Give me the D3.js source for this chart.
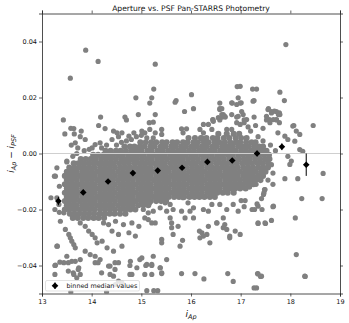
<!DOCTYPE html>
<html>
<head>
<meta charset="utf-8">
<script src="https://cdn.jsdelivr.net/npm/d3@7"></script>
<style>
  body { margin: 0; background: #fff; }
  svg { display: block; font-family: "DejaVu Sans", sans-serif; }
</style>
</head>
<body>
<svg id="chart" width="349" height="323"></svg>
<script>
const xTicks = [13, 14, 15, 16, 17, 18, 19];
const yTicks = [-0.04, -0.02, 0, 0.02, 0.04];

// binned medians
const binMag = [13.33, 13.83, 14.33, 14.83, 15.33, 15.82, 16.33, 16.83, 17.33, 17.83, 18.32];
const binMedian = [-0.0170, -0.0139, -0.0100, -0.0070, -0.0061, -0.0051, -0.0030, -0.0025, 0.0000, 0.0024, -0.0040];
const binErr = [0.0015, 0.0008, 0.0005, 0.0004, 0.0004, 0.0004, 0.0005, 0.0006, 0.0010, 0.0012, 0.0040];

// dense core of the scatter, one row per y level
const coreY = [0.0070, 0.0055, 0.0040, 0.0025, 0.0010, -0.0005, -0.0020, -0.0035, -0.0050, -0.0065,
  -0.0080, -0.0095, -0.0110, -0.0125, -0.0140, -0.0155, -0.0170, -0.0185, -0.0200, -0.0215, -0.0230];
const coreX = [
  [16.55, 16.72, 16.86, 16.97],
  [15.95, 16.08, 16.2, 16.31, 16.44, 16.53, 16.66, 16.77, 16.9, 17.01, 17.12],
  [14.98, 15.09, 15.2, 15.3, 15.42, 15.51, 15.63, 15.72, 15.84, 15.93, 16.05, 16.14, 16.26, 16.35, 16.47, 16.57, 16.68, 16.79, 16.9, 16.99, 17.11, 17.22, 17.3],
  [14.66, 14.77, 14.86, 14.97, 15.06, 15.18, 15.27, 15.39, 15.48, 15.6, 15.69, 15.8, 15.9, 16.01, 16.11, 16.22, 16.32, 16.43, 16.52, 16.63, 16.74, 16.84, 16.95, 17.05, 17.16, 17.27, 17.37, 17.45],
  [14.28, 14.38, 14.49, 14.58, 14.69, 14.8, 14.9, 15.0, 15.12, 15.21, 15.33, 15.43, 15.54, 15.64, 15.75, 15.85, 15.96, 16.06, 16.17, 16.27, 16.38, 16.48, 16.59, 16.69, 16.8, 16.9, 17.01, 17.11, 17.22, 17.32, 17.42, 17.52],
  [14.03, 14.13, 14.24, 14.34, 14.43, 14.54, 14.63, 14.74, 14.85, 14.95, 15.05, 15.16, 15.26, 15.37, 15.47, 15.58, 15.68, 15.79, 15.89, 16.0, 16.1, 16.21, 16.31, 16.42, 16.53, 16.63, 16.74, 16.84, 16.95, 17.05, 17.16, 17.26, 17.37, 17.47, 17.57],
  [13.78, 13.88, 13.98, 14.08, 14.19, 14.29, 14.39, 14.49, 14.6, 14.7, 14.8, 14.9, 15.01, 15.11, 15.21, 15.32, 15.42, 15.52, 15.63, 15.73, 15.83, 15.94, 16.04, 16.14, 16.25, 16.35, 16.46, 16.56, 16.66, 16.77, 16.87, 16.97, 17.08, 17.18, 17.29, 17.39, 17.49, 17.58],
  [13.64, 13.73, 13.83, 13.94, 14.04, 14.14, 14.24, 14.34, 14.44, 14.55, 14.65, 14.75, 14.86, 14.96, 15.06, 15.17, 15.27, 15.37, 15.47, 15.58, 15.68, 15.78, 15.89, 15.99, 16.09, 16.2, 16.3, 16.4, 16.51, 16.61, 16.71, 16.82, 16.92, 17.03, 17.13, 17.23, 17.34, 17.44, 17.55],
  [13.55, 13.65, 13.76, 13.86, 13.96, 14.06, 14.17, 14.27, 14.37, 14.47, 14.58, 14.68, 14.78, 14.88, 14.99, 15.09, 15.19, 15.3, 15.4, 15.5, 15.61, 15.71, 15.81, 15.91, 16.02, 16.12, 16.22, 16.33, 16.43, 16.53, 16.64, 16.74, 16.84, 16.94, 17.05, 17.15, 17.25, 17.36, 17.46, 17.55],
  [13.5, 13.6, 13.7, 13.81, 13.91, 14.01, 14.12, 14.22, 14.32, 14.42, 14.53, 14.63, 14.73, 14.83, 14.94, 15.04, 15.14, 15.25, 15.35, 15.45, 15.55, 15.66, 15.76, 15.86, 15.97, 16.07, 16.17, 16.27, 16.38, 16.48, 16.58, 16.69, 16.79, 16.89, 16.99, 17.1, 17.2, 17.3, 17.41, 17.5],
  [13.46, 13.55, 13.65, 13.76, 13.86, 13.96, 14.06, 14.17, 14.27, 14.37, 14.47, 14.58, 14.68, 14.78, 14.88, 14.99, 15.09, 15.19, 15.3, 15.4, 15.5, 15.61, 15.71, 15.81, 15.91, 16.02, 16.12, 16.22, 16.33, 16.43, 16.53, 16.64, 16.74, 16.84, 16.94, 17.05, 17.15, 17.25, 17.36, 17.45],
  [13.5, 13.6, 13.7, 13.81, 13.91, 14.01, 14.12, 14.22, 14.32, 14.42, 14.53, 14.63, 14.73, 14.83, 14.94, 15.04, 15.14, 15.25, 15.35, 15.45, 15.55, 15.66, 15.76, 15.86, 15.97, 16.07, 16.17, 16.27, 16.38, 16.48, 16.58, 16.69, 16.79, 16.89, 16.99, 17.1, 17.2, 17.3, 17.4],
  [13.46, 13.55, 13.65, 13.76, 13.86, 13.96, 14.06, 14.17, 14.27, 14.37, 14.47, 14.58, 14.68, 14.78, 14.88, 14.99, 15.09, 15.19, 15.3, 15.4, 15.5, 15.61, 15.71, 15.81, 15.91, 16.02, 16.12, 16.22, 16.33, 16.43, 16.53, 16.64, 16.74, 16.84, 16.94, 17.05, 17.15, 17.26],
  [13.5, 13.6, 13.7, 13.81, 13.91, 14.01, 14.12, 14.22, 14.32, 14.42, 14.53, 14.63, 14.73, 14.83, 14.94, 15.04, 15.14, 15.25, 15.35, 15.45, 15.55, 15.66, 15.76, 15.86, 15.97, 16.07, 16.17, 16.27, 16.38, 16.48, 16.58, 16.69, 16.79, 16.89, 16.99, 17.1],
  [13.46, 13.55, 13.65, 13.76, 13.86, 13.96, 14.06, 14.17, 14.27, 14.37, 14.47, 14.58, 14.68, 14.78, 14.88, 14.99, 15.09, 15.19, 15.3, 15.4, 15.5, 15.61, 15.71, 15.81, 15.91, 16.02, 16.12, 16.22, 16.33, 16.43, 16.53, 16.64, 16.74, 16.86],
  [13.5, 13.6, 13.7, 13.81, 13.91, 14.01, 14.12, 14.22, 14.32, 14.42, 14.53, 14.63, 14.73, 14.83, 14.94, 15.04, 15.14, 15.25, 15.35, 15.45, 15.55, 15.66, 15.76, 15.86, 15.97, 16.07, 16.17, 16.27, 16.38, 16.48],
  [13.46, 13.55, 13.65, 13.76, 13.86, 13.96, 14.06, 14.17, 14.27, 14.37, 14.47, 14.58, 14.68, 14.78, 14.88, 14.99, 15.09, 15.19, 15.3, 15.4, 15.5],
  [13.5, 13.6, 13.7, 13.81, 13.91, 14.01, 14.12, 14.22, 14.32, 14.42, 14.53, 14.63, 14.73, 14.83, 14.94, 15.04, 15.14],
  [13.46, 13.55, 13.65, 13.76, 13.86, 13.96, 14.06, 14.17, 14.27, 14.37, 14.47, 14.58, 14.68, 14.78, 14.88],
  [13.56, 13.66, 13.75, 13.85, 13.95, 14.05, 14.16, 14.26, 14.36, 14.46, 14.57, 14.68],
  [13.62, 13.72, 13.83, 13.93, 14.04, 14.14, 14.25]
];

// scattered points outside the core, [mag, diff]
const outliers = [
  [13.88, 0.0369], [14.13, 0.0329], [13.57, 0.0269], [15.28, 0.0319], [17.91, 0.0389],
  [13.43, 0.0120], [14.89, 0.0199], [15.21, 0.0199], [15.25, 0.0230], [15.17, 0.0180],
  [16.01, 0.0210], [15.70, 0.0189], [15.87, 0.0150], [16.05, 0.0160], [16.93, 0.0239],
  [17.24, 0.0230], [17.32, 0.0230], [17.27, 0.0189], [17.79, 0.0219], [17.88, 0.0189],
  [16.58, 0.0180], [16.83, 0.0180], [16.99, 0.0180], [16.58, 0.0160], [16.62, 0.0160],
  [17.02, 0.0150], [14.18, 0.0130], [14.67, 0.0130], [14.70, 0.0120], [14.94, 0.0139],
  [15.28, 0.0139], [14.14, 0.0100], [13.58, 0.0090], [15.16, 0.0110], [16.44, 0.0120],
  [16.63, 0.0130], [16.69, 0.0130], [16.92, 0.0130], [17.27, 0.0130], [17.56, 0.0160],
  [17.62, 0.0150], [17.72, 0.0150], [17.79, 0.0139], [18.07, 0.0100], [18.46, 0.0100],
  [17.07, 0.0120], [17.07, 0.0110], [17.52, 0.0120], [17.59, 0.0110], [17.72, 0.0120],
  [16.58, 0.0120], [14.27, 0.0089], [13.46, 0.0070], [13.64, 0.0089], [13.65, 0.0070],
  [13.79, 0.0080], [13.77, 0.0060], [13.87, 0.0050], [13.59, 0.0030], [13.67, 0.0038],
  [13.72, 0.0020], [14.44, 0.0080], [14.51, 0.0074], [14.61, 0.0074], [14.41, 0.0050],
  [14.54, 0.0060], [14.75, 0.0062], [14.85, 0.0074], [14.01, 0.0020], [14.07, 0.0032],
  [14.17, 0.0038], [13.30, -0.0051], [13.27, -0.0081], [13.50, -0.0027], [13.25, -0.0081],
  [13.18, -0.0158], [13.26, -0.0200], [13.35, -0.0117], [13.31, -0.0331], [13.26, -0.0400],
  [13.35, -0.0210], [13.30, -0.0158], [13.34, -0.0182], [13.44, -0.0212], [13.37, -0.0242],
  [13.47, -0.0271], [13.54, -0.0289], [13.57, -0.0301], [13.60, -0.0313], [13.64, -0.0325],
  [13.67, -0.0337], [13.30, -0.0331], [13.27, -0.0399], [13.50, -0.0367], [13.44, -0.0390],
  [13.67, -0.0385], [13.74, -0.0408], [13.64, -0.0432], [13.77, -0.0248], [13.87, -0.0260],
  [13.94, -0.0277], [14.01, -0.0289], [14.07, -0.0301], [14.11, -0.0319], [14.21, -0.0313],
  [14.24, -0.0248], [14.34, -0.0254], [14.48, -0.0242], [14.64, -0.0254], [14.81, -0.0248],
  [14.95, -0.0260], [14.41, -0.0277], [14.54, -0.0289], [14.75, -0.0283], [14.88, -0.0295],
  [14.31, -0.0337], [14.44, -0.0349], [14.61, -0.0331], [14.07, -0.0367], [14.17, -0.0379],
  [13.87, -0.0349], [13.97, -0.0361], [14.54, -0.0390], [14.34, -0.0402], [14.78, -0.0385],
  [14.91, -0.0408], [14.81, -0.0432], [14.48, -0.0468], [14.61, -0.0462], [13.58, -0.0495],
  [14.30, -0.0495], [15.11, -0.0490], [15.25, -0.0490], [15.33, -0.0490], [13.26, -0.0432],
  [13.53, -0.0420], [13.63, -0.0426], [13.73, -0.0414], [13.77, -0.0432], [13.70, -0.0444],
  [14.07, -0.0390], [14.13, -0.0390], [14.20, -0.0426], [14.37, -0.0432], [14.44, -0.0438],
  [14.47, -0.0414], [14.54, -0.0456], [14.77, -0.0432], [15.07, -0.0432], [15.21, -0.0432],
  [15.38, -0.0408], [15.41, -0.0429], [15.51, -0.0379], [15.81, -0.0429], [16.08, -0.0429],
  [16.26, -0.0448], [16.74, -0.0429], [16.85, -0.0457], [17.27, -0.0480], [17.32, -0.0480],
  [17.34, -0.0429], [17.42, -0.0438], [18.29, -0.0438], [15.07, -0.0170], [15.17, -0.0176],
  [15.04, -0.0200], [15.14, -0.0212], [15.24, -0.0206], [15.07, -0.0230], [15.14, -0.0236],
  [15.21, -0.0248], [15.28, -0.0248], [15.38, -0.0164], [15.48, -0.0176], [15.58, -0.0182],
  [15.38, -0.0194], [15.51, -0.0206], [15.64, -0.0200], [15.58, -0.0230], [15.61, -0.0248],
  [15.61, -0.0265], [15.64, -0.0289], [15.74, -0.0260], [15.41, -0.0307], [15.41, -0.0319],
  [15.78, -0.0331], [15.83, -0.0310], [15.84, -0.0158], [15.94, -0.0176], [16.05, -0.0194],
  [15.98, -0.0206], [15.81, -0.0206], [15.88, -0.0230], [16.05, -0.0230], [16.18, -0.0301],
  [16.22, -0.0283], [16.32, -0.0289], [16.38, -0.0319], [16.25, -0.0200], [16.35, -0.0206],
  [16.42, -0.0182], [16.52, -0.0248], [16.65, -0.0230], [16.68, -0.0254], [16.72, -0.0271],
  [16.78, -0.0301], [16.89, -0.0277], [16.58, -0.0182], [16.72, -0.0200], [16.85, -0.0182],
  [16.95, -0.0206], [15.01, -0.0373], [15.11, -0.0396], [15.24, -0.0367], [15.21, -0.0396],
  [15.38, -0.0408], [15.41, -0.0426], [16.98, -0.0110], [17.18, -0.0120], [17.31, -0.0110],
  [17.65, -0.0110], [17.48, -0.0129], [17.47, -0.0140], [17.01, -0.0168], [17.09, -0.0168],
  [17.42, -0.0161], [17.07, -0.0190], [17.23, -0.0200], [17.28, -0.0200], [17.43, -0.0200],
  [17.33, -0.0180], [17.65, -0.0190], [17.35, -0.0250], [17.50, -0.0250], [17.62, -0.0239],
  [18.23, -0.0161], [18.64, -0.0161], [18.10, -0.0230], [18.12, -0.0361], [17.35, -0.0430],
  [17.40, -0.0439], [18.30, -0.0439], [17.01, 0.0181], [17.25, 0.0187], [17.55, 0.0157],
  [17.62, 0.0145], [17.68, 0.0151], [17.78, 0.0145], [17.72, 0.0121], [17.78, 0.0110],
  [17.58, 0.0121], [17.52, 0.0133], [18.05, 0.0098], [18.12, 0.0080], [18.19, 0.0068],
  [18.09, 0.0044], [18.19, 0.0014], [18.25, 0.0008], [17.89, 0.0062], [17.95, 0.0050],
  [17.75, 0.0074], [18.66, -0.0071], [18.15, -0.0090], [17.89, -0.0090], [17.95, -0.0010],
  [18.02, -0.0027], [17.99, -0.0039], [17.76, 0.0139], [17.66, 0.0121], [16.65, 0.0139],
  [17.05, 0.0139], [17.12, 0.0121], [16.45, 0.0115], [16.25, 0.0104], [16.99, 0.0104],
  [16.52, -0.0248], [16.65, -0.0265], [16.78, -0.0295], [16.99, -0.0289], [17.35, -0.0248],
  [17.49, -0.0248], [17.66, -0.0188], [17.35, -0.0188], [17.46, -0.0146], [17.49, -0.0129],
  [16.17, -0.0277], [16.25, -0.0295], [16.35, -0.0260], [15.24, 0.0112], [15.01, 0.0080],
  [15.07, 0.0074], [15.17, 0.0086], [15.28, 0.0074], [15.41, 0.0086], [15.41, 0.0068],
  [15.24, 0.0056], [15.11, 0.0056], [15.81, 0.0088], [15.91, 0.0088], [15.84, 0.0074],
  [16.18, 0.0086], [16.25, 0.0074], [16.22, 0.0056], [16.35, 0.0104], [16.42, 0.0086],
  [16.44, 0.0121], [16.55, 0.0128], [16.62, 0.0139], [16.58, 0.0157], [16.68, 0.0133],
  [16.82, 0.0139], [16.82, 0.0181], [16.92, 0.0175], [16.95, 0.0199], [16.99, 0.0240],
  [16.95, 0.0133], [16.92, 0.0110], [16.72, 0.0086], [16.82, 0.0086], [15.68, 0.0183],
  [13.36, -0.0388], [13.53, -0.0390], [13.60, -0.0385], [13.77, -0.0379], [14.37, -0.0402],
  [14.47, -0.0390], [14.77, -0.0400], [14.97, -0.0379], [15.09, -0.0400], [15.21, -0.0400],
  [13.50, -0.0030], [13.62, -0.0010], [13.70, 0.0000], [13.85, 0.0010], [13.95, 0.0015],
  [14.20, 0.0020], [14.30, 0.0030], [14.50, 0.0030], [14.60, 0.0040], [14.70, 0.0045],
  [14.80, 0.0050], [14.90, 0.0060], [15.00, 0.0065], [17.20, 0.0080], [17.35, 0.0060],
  [17.45, 0.0045], [17.60, 0.0030], [17.30, 0.0100], [17.45, 0.0090], [17.15, 0.0095],
  [17.62, -0.0040], [17.65, -0.0070], [17.55, -0.0095], [17.70, 0.0010]
];

const svg = d3.select('#chart');
const margin = { top: 13.5, right: 9, bottom: 29.5, left: 42 };
const width = 349, height = 323;

const x = d3.scaleLinear().domain([13, 19]).range([margin.left, width - margin.right]);
const y = d3.scaleLinear().domain([-0.05, 0.05]).range([height - margin.bottom, margin.top]);

svg.append('clipPath').attr('id', 'plotClip')
  .append('rect')
    .attr('x', x(13)).attr('y', y(0.05))
    .attr('width', x(19) - x(13)).attr('height', y(-0.05) - y(0.05));

const grey = '#808080';
const plot = svg.append('g').attr('clip-path', 'url(#plotClip)');

// core rows (packed tightly, a touch larger so no gaps show)
const corePts = [];
coreY.forEach((yy, i) => coreX[i].forEach(xx => corePts.push([xx, yy])));

plot.append('g')
  .attr('fill', grey)
  .selectAll('circle')
  .data(corePts)
  .join('circle')
    .attr('cx', d => x(d[0]))
    .attr('cy', d => y(d[1]))
    .attr('r', 3.05);

plot.append('g')
  .attr('fill', grey)
  .selectAll('circle')
  .data(outliers)
  .join('circle')
    .attr('cx', d => x(d[0]))
    .attr('cy', d => y(d[1]))
    .attr('r', 2.6);

// zero line
plot.append('line')
  .attr('x1', x(13)).attr('x2', x(19))
  .attr('y1', y(0)).attr('y2', y(0))
  .attr('stroke', '#cfcfcf').attr('stroke-width', 1.2);

// error bars and medians
const bins = binMag.map((m, i) => ({ m, v: binMedian[i], e: binErr[i] }));
plot.append('g')
  .attr('stroke', '#000').attr('stroke-width', 1)
  .selectAll('line')
  .data(bins)
  .join('line')
    .attr('x1', d => x(d.m)).attr('x2', d => x(d.m))
    .attr('y1', d => y(d.v + d.e)).attr('y2', d => y(d.v - d.e));

const diamond = d3.symbol().type(d3.symbolSquare).size(22);
plot.append('g')
  .selectAll('path')
  .data(bins)
  .join('path')
    .attr('d', diamond)
    .attr('fill', '#000')
    .attr('transform', d => `translate(${x(d.m)},${y(d.v)}) rotate(45)`);

// axes, ticks on all four sides
const fontSize = 6.5;
const styleAxis = g => {
  g.select('.domain').attr('stroke', '#222').attr('stroke-width', 0.8);
  g.selectAll('.tick line').attr('stroke', '#222').attr('stroke-width', 0.7);
  g.selectAll('.tick text').attr('font-size', fontSize).attr('fill', '#111')
    .attr('font-family', '"DejaVu Sans", sans-serif');
};
const fmtY = d => d3.format('.2f')(d).replace('-', '\u2212');

svg.append('g')
  .attr('transform', `translate(0,${y(-0.05)})`)
  .call(d3.axisBottom(x).tickValues(xTicks).tickFormat(d3.format('d')).tickSizeOuter(0).tickSize(3).tickPadding(2.5))
  .call(styleAxis);
svg.append('g')
  .attr('transform', `translate(0,${y(0.05)})`)
  .call(d3.axisTop(x).tickValues(xTicks).tickFormat('').tickSizeOuter(0).tickSize(3))
  .call(styleAxis);
svg.append('g')
  .attr('transform', `translate(${x(13)},0)`)
  .call(d3.axisLeft(y).tickValues(yTicks).tickFormat(fmtY).tickSizeOuter(0).tickSize(3).tickPadding(2))
  .call(styleAxis);
svg.append('g')
  .attr('transform', `translate(${x(19)},0)`)
  .call(d3.axisRight(y).tickValues(yTicks).tickFormat('').tickSizeOuter(0).tickSize(3))
  .call(styleAxis);

// title
svg.append('text')
  .attr('x', (x(13) + x(19)) / 2).attr('y', 10.5)
  .attr('text-anchor', 'middle')
  .attr('font-size', 7.6).attr('fill', '#111')
  .text('Aperture vs. PSF Pan-STARRS Photometry');

// x label
const xl = svg.append('text')
  .attr('x', (x(13) + x(19)) / 2).attr('y', 317)
  .attr('text-anchor', 'middle')
  .attr('font-size', 9).attr('fill', '#111');
xl.append('tspan').attr('font-style', 'italic').text('i');
xl.append('tspan').attr('font-style', 'italic').attr('font-size', 6.5).attr('dy', 2).text('Ap');

// y label
const yl = svg.append('text')
  .attr('transform', `translate(14,${(y(-0.05) + y(0.05)) / 2}) rotate(-90)`)
  .attr('text-anchor', 'middle')
  .attr('font-size', 9).attr('fill', '#111');
yl.append('tspan').attr('font-style', 'italic').text('i');
yl.append('tspan').attr('font-style', 'italic').attr('font-size', 6.5).attr('dy', 2).text('Ap');
yl.append('tspan').attr('dy', -2).text(' \u2212 ');
yl.append('tspan').attr('font-style', 'italic').text('i');
yl.append('tspan').attr('font-style', 'italic').attr('font-size', 6.5).attr('dy', 2).text('PSF');

// legend
const lg = svg.append('g').attr('transform', `translate(${x(13) + 3.5},${y(-0.05) - 13})`);
lg.append('rect')
  .attr('width', 94).attr('height', 10.5).attr('rx', 1.5)
  .attr('fill', '#fff').attr('fill-opacity', 0.8)
  .attr('stroke', '#d6d6d6').attr('stroke-width', 0.7);
lg.append('line').attr('x1', 9.5).attr('x2', 9.5).attr('y1', 2).attr('y2', 8.5)
  .attr('stroke', '#000').attr('stroke-width', 1);
lg.append('path').attr('d', diamond).attr('fill', '#000')
  .attr('transform', 'translate(9.5,5.25) rotate(45)');
lg.append('text')
  .attr('x', 21).attr('y', 7.6)
  .attr('font-size', 6.4).attr('fill', '#111')
  .text('binned median values');
</script>
</body>
</html>
